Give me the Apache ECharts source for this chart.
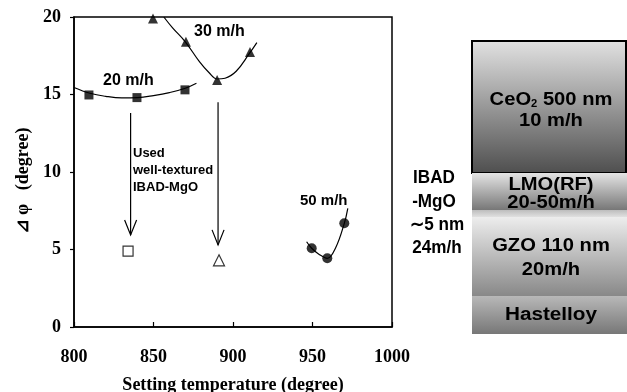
<!DOCTYPE html>
<html><head><meta charset="utf-8">
<script src="https://cdn.jsdelivr.net/npm/echarts@6/dist/echarts.min.js"></script>
<style>html,body{margin:0;padding:0;background:#fff}#c{width:627px;height:392px}</style>
</head><body><div id="c"></div>
<script>
// ---- data ----
const xMin = 800, xMax = 1000, xStep = 50;
const yMin = 0, yMax = 20, yStep = 5;
// measured points
const pts20 = [[809.4, 14.97], [839.6, 14.8], [869.8, 15.3]];
const pts30 = [[849.7, 19.9], [870.4, 18.4], [890, 15.94], [910.7, 17.74]];
const pts50 = [[949.5, 5.08], [959.3, 4.43], [970, 6.69]];
// fitted trend curves
const fit20 = [[800, 15.45], [810, 15.08], [820, 14.88], [830, 14.78], [840, 14.8], [850, 14.93], [860, 15.12], [870, 15.4], [877, 15.72]];
const fit30 = [[856.5, 20], [862, 19.3], [870, 18.4], [879, 17.1], [885, 16.4], [890, 16.0], [895, 16.05], [902, 16.5], [910, 17.6], [915, 18.35]];
const fit50 = [[946.3, 5.5], [949.5, 5.08], [954, 4.7], [959.3, 4.43], [964.5, 5.1], [970, 6.69], [972.2, 7.66]];
// open markers (IBAD-MgO used)
const openSquare = [[834, 4.9]];
const openTriangle = [[891.2, 4.3]];
// arrows: [x, yStart, yTip]
const arrows = [[835.6, 13.8, 5.94], [890.6, 14.5, 5.3]];
// series labels
const seriesNames = ['20 m/h', '30 m/h', '50 m/h'];

const serif = 'Liberation Serif';
const sans = 'Liberation Sans';

const chart = echarts.init(document.getElementById('c'), null, {renderer: 'canvas'});

function lineSeries(d) {
  return {type: 'line', data: d, smooth: 0.4, showSymbol: false, symbol: 'none',
    lineStyle: {color: '#000', width: 1.2}, silent: true, z: 2};
}
function markSeries(d, sym, size, filled) {
  return {type: 'scatter', data: d, symbol: sym, symbolSize: size, z: 3, clip: false,
    itemStyle: filled ? {color: '#000'} : {color: '#fff', borderColor: '#000', borderWidth: 1.2}};
}
function boxText(txt, x, y, sx, extra) {
  const st = {text: txt, align: 'center', verticalAlign: 'middle', font: 'bold 18px ' + sans, fill: '#000'};
  if (extra) Object.assign(st, extra);
  return {type: 'text', x: x, y: y, scaleX: sx, originX: 0, style: st};
}

const option = {
  animation: false,
  backgroundColor: '#fff',
  grid: {left: 74, top: 17, right: 235, bottom: 65, outerBoundsMode: 'none', containLabel: false,
    show: true, borderColor: '#000', borderWidth: 1.5, backgroundColor: 'transparent'},
  xAxis: {
    type: 'value', min: xMin, max: xMax, interval: xStep,
    axisLine: {show: true, lineStyle: {color: '#000', width: 1.5}},
    axisTick: {show: true, inside: true, length: 5, lineStyle: {color: '#000', width: 1.2}},
    splitLine: {show: false},
    axisLabel: {color: '#000', fontFamily: serif, fontWeight: 'bold', fontSize: 18, margin: 21, formatter: v => String(v)},
    name: 'Setting temperature (degree)', nameLocation: 'middle', nameGap: 49,
    nameTextStyle: {color: '#000', fontFamily: serif, fontWeight: 'bold', fontSize: 18}
  },
  yAxis: {
    type: 'value', min: yMin, max: yMax, interval: yStep,
    axisLine: {show: true, lineStyle: {color: '#000', width: 1.5}},
    axisTick: {show: true, inside: false, length: 4, lineStyle: {color: '#000', width: 1.2}},
    splitLine: {show: false},
    axisLabel: {color: '#000', fontFamily: serif, fontWeight: 'bold', fontSize: 18, margin: 13, formatter: v => String(v)},
    name: '⊿ φ   (degree)', nameLocation: 'middle', nameGap: 42, nameRotate: 90,
    nameTextStyle: {color: '#000', fontFamily: serif, fontWeight: 'bold', fontSize: 18, padding: [0, 18, 0, 0]}
  },
  series: [
    lineSeries(fit20), lineSeries(fit30), lineSeries(fit50),
    markSeries(pts20, 'rect', 9, true),
    markSeries(pts30, 'triangle', 10, true),
    markSeries(pts50, 'circle', 10, true),
    markSeries(openSquare, 'rect', 10, false),
    markSeries(openTriangle, 'triangle', 11, false),
    {
      type: 'custom', data: arrows, z: 2, clip: false,
      encode: {x: 0, y: [1, 2]},
      renderItem: function (params, api) {
        const x = api.value(0);
        const p1 = api.coord([x, api.value(1)]);
        const p2 = api.coord([x, api.value(2)]);
        return {type: 'group', children: [
          {type: 'line', shape: {x1: p1[0], y1: p1[1], x2: p2[0], y2: p2[1]}, style: {stroke: '#000', lineWidth: 1.2}},
          {type: 'polyline', shape: {points: [[p2[0] - 6, p2[1] - 15], [p2[0], p2[1]], [p2[0] + 6, p2[1] - 15]]}, style: {stroke: '#000', fill: null, lineWidth: 1.2}}
        ]};
      }
    }
  ],
  graphic: [
    // series labels
    {type: 'text', left: 103, top: 73, style: {text: seriesNames[0], font: 'bold 16px ' + sans, fill: '#000'}},
    {type: 'text', left: 194, top: 24, style: {text: seriesNames[1], font: 'bold 16px ' + sans, fill: '#000'}},
    {type: 'text', left: 300, top: 193, style: {text: seriesNames[2], font: 'bold 15px ' + sans, fill: '#000'}},
    // annotation
    {type: 'text', left: 133, top: 145, style: {text: 'Used\nwell-textured\nIBAD-MgO', font: 'bold 13px ' + sans, lineHeight: 17, fill: '#000'}},
    // layer stack
    {type: 'rect', shape: {x: 472, y: 41, width: 154, height: 132},
      style: {fill: new echarts.graphic.LinearGradient(0, 0, 0, 1, [{offset: 0, color: '#e2e2e2'}, {offset: 1, color: '#4e4e4e'}]), stroke: '#000', lineWidth: 2}},
    {type: 'rect', shape: {x: 472, y: 173, width: 155, height: 37},
      style: {fill: new echarts.graphic.LinearGradient(0, 0, 0, 1, [{offset: 0, color: '#e4e4e4'}, {offset: 1, color: '#777'}])}},
    {type: 'rect', shape: {x: 472, y: 210, width: 155, height: 7},
      style: {fill: new echarts.graphic.LinearGradient(0, 0, 0, 1, [{offset: 0, color: '#bdbdbd'}, {offset: 1, color: '#e0e0e0'}])}},
    {type: 'rect', shape: {x: 472, y: 217, width: 155, height: 79},
      style: {fill: new echarts.graphic.LinearGradient(0, 0, 0, 1, [{offset: 0, color: '#ededed'}, {offset: 1, color: '#888'}])}},
    {type: 'rect', shape: {x: 472, y: 296, width: 155, height: 38},
      style: {fill: new echarts.graphic.LinearGradient(0, 0, 0, 1, [{offset: 0, color: '#b8b8b8'}, {offset: 1, color: '#777'}])}},
    boxText('CeO{s|2} 500 nm', 551, 100, 1.12, {rich: {s: {font: 'bold 10px ' + sans, fill: '#000', verticalAlign: 'bottom', padding: [9, 0, 0, 0]}}}),
    boxText('10 m/h', 551, 121, 1.12),
    boxText('LMO(RF)', 551, 185, 1.12),
    boxText('20-50m/h', 551, 203, 1.12),
    boxText('GZO 110 nm', 551, 246, 1.12),
    boxText('20m/h', 551, 270, 1.12),
    boxText('Hastelloy', 551, 315, 1.15),
    boxText('IBAD', 434, 178, 0.95),
    boxText('-MgO', 434, 202, 0.95),
    boxText('∼5 nm', 437, 225, 0.95),
    boxText('24m/h', 437, 248, 0.95)
  ]
};
chart.setOption(option);
</script>
</body></html>
